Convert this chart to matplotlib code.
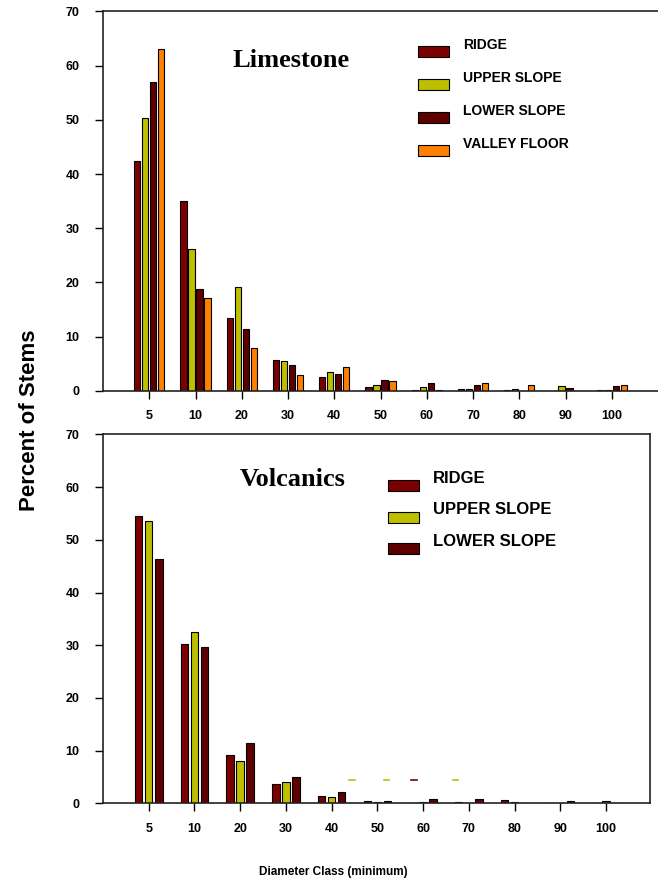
import matplotlib
matplotlib.use('Agg')
import matplotlib.pyplot as plt
from matplotlib.patches import Rectangle
import numpy as np

# diameter classes (minimum) and percent of stems
classes = ['5', '10', '20', '30', '40', '50', '60', '70', '80', '90', '100']

lime_ridge = [42.4, 35.0, 13.5, 5.6, 2.6, 0.6, 0.2, 0.3, 0.1, 0.0, 0.15]
lime_upper = [50.3, 26.1, 19.1, 5.4, 3.5, 1.0, 0.6, 0.4, 0.25, 0.8, 0.2]
lime_lower = [57.0, 18.8, 11.4, 4.8, 3.0, 2.0, 1.5, 1.0, 0.0, 0.45, 0.9]
lime_valley = [63.0, 17.1, 7.9, 2.9, 4.3, 1.8, 0.1, 1.5, 1.0, 0.0, 1.0]

volc_ridge = [54.6, 30.3, 9.1, 3.7, 1.3, 0.4, 0.0, 0.2, 0.55, 0.0, 0.0]
volc_upper = [53.6, 32.6, 8.0, 4.1, 1.2, 0.2, 0.2, 0.0, 0.2, 0.0, 0.4]
volc_lower = [46.3, 29.6, 11.5, 4.9, 2.1, 0.4, 0.75, 0.75, 0.0, 0.35, 0.0]

# stray little dashes that sit in the volcanics panel
stray_x = [4.44, 5.20, 5.80, 6.71]
stray_y = [4.4, 4.4, 4.4, 4.4]
stray_col = ['#BDBF00', '#BDBF00', '#7B0000', '#BDBF00']

C_RIDGE = '#7B0000'
C_UPPER = '#BDBF00'
C_LOWER = '#5E0000'
C_VALLEY = '#FF7F00'

plt.rcParams['font.family'] = ['Liberation Sans', 'DejaVu Sans']
plt.rcParams['font.weight'] = 'bold'

W, H = 658, 888
fig = plt.figure(figsize=(W / 100, H / 100), dpi=100)


def fx(px):
    return px / W


def fy(py):
    return 1 - py / H


def style_axes(ax, right_spine):
    for s in ax.spines.values():
        s.set_linewidth(1.2)
        s.set_color('#222222')
    ax.spines['right'].set_visible(right_spine)
    ax.set_ylim(0, 70)
    ax.set_yticks(range(0, 71, 10))
    ax.tick_params(axis='y', direction='out', length=6, width=1, pad=11, labelsize=9)
    ax.tick_params(axis='x', direction='out', length=6, width=1, pad=8, labelsize=9)
    ax.set_xticks(np.arange(len(classes)))
    ax.set_xticklabels(classes)


def legend(labels, colors, x_patch, x_text, y_first, step, fs):
    for i, (lab, col) in enumerate(zip(labels, colors)):
        yl = y_first + i * step
        fig.add_artist(Rectangle((fx(x_patch), fy(yl + 7 + 5.5)), fx(31), 11 / H,
                                 facecolor=col, edgecolor='black', linewidth=0.8,
                                 transform=fig.transFigure))
        fig.text(fx(x_text), fy(yl), lab, fontsize=fs, fontweight='bold',
                 va='center', ha='left')


x = np.arange(len(classes))

# ---- Limestone ----
ax1 = fig.add_axes([fx(103), fy(390.7), fx(658 - 103), (390.7 - 11.5) / H])
w1, p1 = 0.14, 0.173
for k, (vals, col) in enumerate(zip([lime_ridge, lime_upper, lime_lower, lime_valley],
                                     [C_RIDGE, C_UPPER, C_LOWER, C_VALLEY])):
    ax1.bar(x + (k - 1.5) * p1, vals, w1, color=col, edgecolor='black', linewidth=0.8)
ax1.set_xlim(-1, 11)
style_axes(ax1, False)
ax1.text(1.79, 61, 'Limestone', fontsize=19, fontweight='bold',
         family='Liberation Serif', va='center', ha='left')
legend(['RIDGE', 'UPPER SLOPE', 'LOWER SLOPE', 'VALLEY FLOOR'],
       [C_RIDGE, C_UPPER, C_LOWER, C_VALLEY], 418, 463, 45, 33, 10)

# ---- Volcanics ----
ax2 = fig.add_axes([fx(103), fy(803.3), fx(650.3 - 103), (803.3 - 434.5) / H])
w2, p2 = 0.165, 0.22
for k, (vals, col) in enumerate(zip([volc_ridge, volc_upper, volc_lower],
                                     [C_RIDGE, C_UPPER, C_LOWER])):
    ax2.bar(x + (k - 1) * p2, vals, w2, color=col, edgecolor='black', linewidth=0.8)
for sx, sy, sc in zip(stray_x, stray_y, stray_col):
    ax2.plot([sx - 0.065, sx + 0.065], [sy, sy], color=sc, linewidth=1.2)
ax2.set_xlim(-1, 10.97)
style_axes(ax2, True)
ax2.text(1.99, 61.4, 'Volcanics', fontsize=19, fontweight='bold',
         family='Liberation Serif', va='center', ha='left')
legend(['RIDGE', 'UPPER SLOPE', 'LOWER SLOPE'],
       [C_RIDGE, C_UPPER, C_LOWER], 388, 433, 478.5, 31.5, 12)

fig.text(fx(30), fy(420), 'Percent of Stems', rotation=90, fontsize=16,
         fontweight='bold', ha='center', va='center')
fig.text(fx(333), fy(872), 'Diameter Class (minimum)', fontsize=8.5,
         fontweight='bold', ha='center', va='center')

fig.savefig('out.png', dpi=100)
plt.close(fig)
